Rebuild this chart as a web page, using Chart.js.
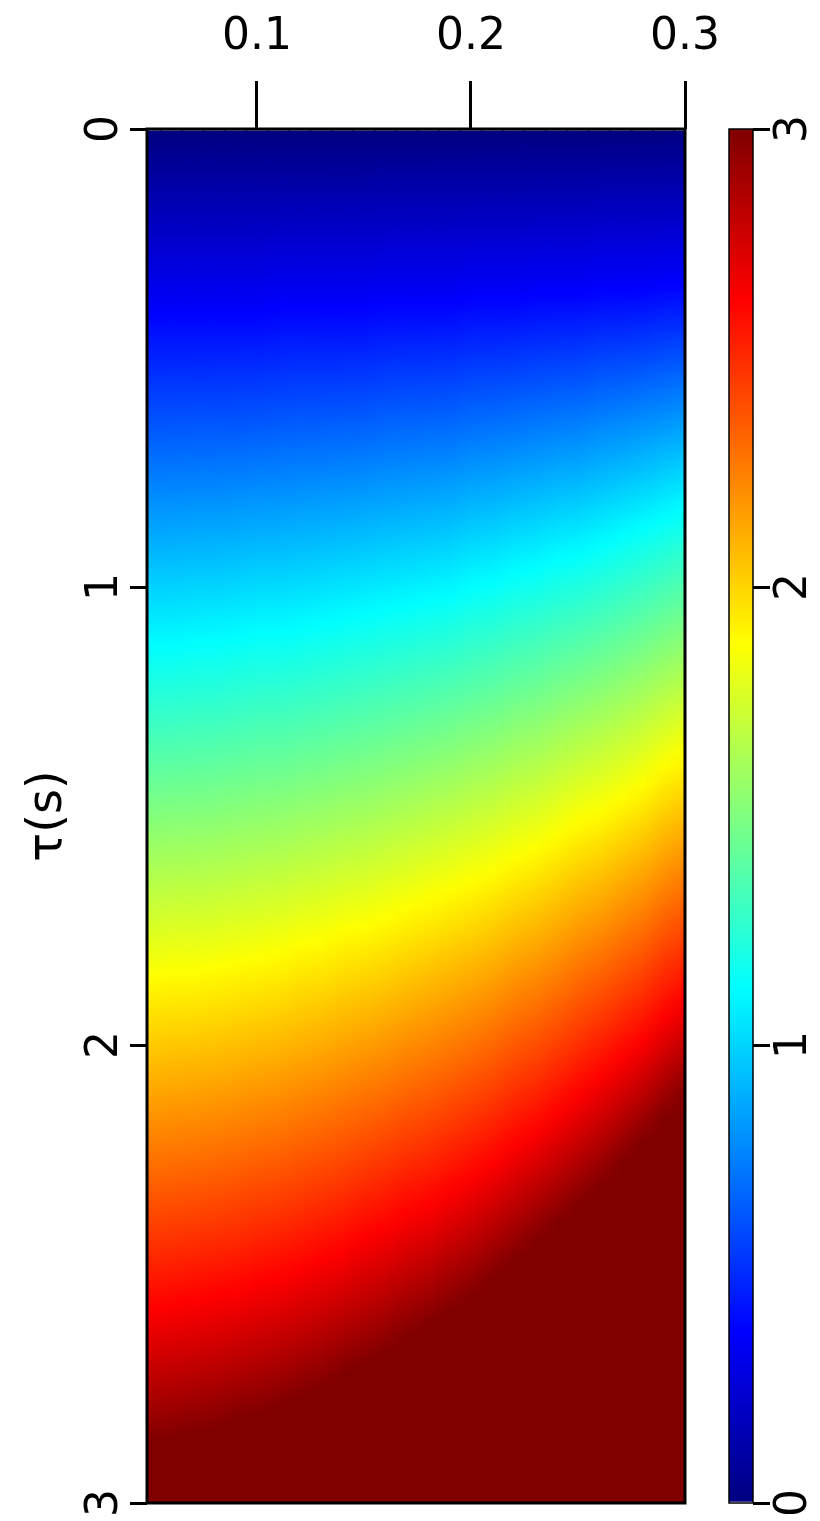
<!DOCTYPE html>
<html><head><meta charset="utf-8">
<script src="https://cdn.jsdelivr.net/npm/chart.js@4.4.1/dist/chart.umd.min.js"></script>
<style>
html,body{margin:0;padding:0;background:#fff;}
#wrap{position:relative;width:820px;height:1521px;overflow:hidden;}
#main{position:absolute;left:0;top:0;width:820px;height:1521px;}
#cbar{position:absolute;left:700px;top:0;width:120px;height:1521px;}
</style></head><body>
<div id="wrap"><canvas id="main" width="820" height="1521"></canvas><canvas id="cbar" width="120" height="1521"></canvas></div>
<script>
// x positions of the sampled columns
const xColumns = [0.05,0.06,0.07,0.08,0.09,0.10,0.11,0.12,0.13,0.14,0.15,0.16,0.17,0.18,0.19,0.20,0.21,0.22,0.23,0.24,0.25,0.26,0.27,0.28,0.29,0.30];
// tau (s) at which each column reaches the value of the jet break points
const tauBlue    = [0.40,0.40,0.40,0.40,0.40,0.40,0.39,0.39,0.39,0.39,0.39,0.38,0.38,0.38,0.38,0.37,0.37,0.37,0.36,0.36,0.36,0.35,0.35,0.35,0.34,0.34]; // value 0.375
const tauCyan    = [1.13,1.13,1.12,1.12,1.11,1.10,1.10,1.09,1.08,1.07,1.06,1.05,1.04,1.03,1.02,1.00,0.99,0.97,0.96,0.94,0.93,0.91,0.89,0.87,0.85,0.83]; // value 1.125
const tauYellow  = [1.85,1.84,1.84,1.83,1.82,1.81,1.80,1.78,1.77,1.75,1.74,1.72,1.70,1.68,1.66,1.64,1.62,1.59,1.57,1.54,1.51,1.49,1.46,1.43,1.39,1.36]; // value 1.875
const tauRed     = [2.58,2.57,2.56,2.55,2.54,2.52,2.51,2.49,2.47,2.45,2.42,2.40,2.37,2.35,2.32,2.29,2.26,2.22,2.19,2.15,2.11,2.07,2.03,1.99,1.94,1.90]; // value 2.625
const tauDarkRed = [2.87,2.86,2.85,2.84,2.82,2.81,2.79,2.77,2.75,2.72,2.70,2.67,2.64,2.61,2.58,2.55,2.51,2.47,2.43,2.39,2.35,2.31,2.26,2.21,2.16,2.11]; // value 3.0

const xTicks = [0.1, 0.2, 0.3];
const tauTicks = [0, 1, 2, 3];
const colorbarTicks = [0, 1, 2, 3];
const jetLevels = [0, 0.375, 1.125, 1.875, 2.625, 3];
const jetColors = ['#000080', '#0000ff', '#00ffff', '#ffff00', '#ff0000', '#800000'];

const FONT = 'DejaVu Sans';

const framePlugin = {
  id: 'frame',
  afterDatasetsDraw(chart, args, opts) {
    const {ctx, chartArea: a} = chart;
    ctx.save();
    ctx.lineWidth = opts.width || 3;
    ctx.strokeStyle = '#000';
    ctx.strokeRect(a.left, a.top, a.right - a.left, a.bottom - a.top);
    ctx.restore();
  }
};

// Fill for the column bars: each column's vertical jet gradient (from its tau
// crossings), blended smoothly between neighbouring column centres.
let fieldCache = null;
function fieldPattern(c) {
  const chart = c.chart;
  const a = chart.chartArea;
  if (!a) return jetColors[0];
  const key = [a.left, a.top, a.right, a.bottom].join(',');
  if (fieldCache && fieldCache.key === key) return fieldCache.pattern;
  const xs = chart.scales.x, ys = chart.scales.y;
  const p0 = ys.getPixelForValue(0), p3 = ys.getPixelForValue(3);
  const n = xColumns.length, H = chart.height, W = chart.width;
  const strip = document.createElement('canvas');
  strip.width = n; strip.height = H;
  const sctx = strip.getContext('2d');
  for (let i = 0; i < n; i++) {
    const g = sctx.createLinearGradient(0, p0, 0, p3);
    const taus = [0, tauBlue[i], tauCyan[i], tauYellow[i], tauRed[i], tauDarkRed[i]];
    taus.forEach((t, k) => g.addColorStop(Math.min(1, t / 3), jetColors[k]));
    g.addColorStop(1, jetColors[5]);
    sctx.fillStyle = g;
    sctx.fillRect(i, 0, 1, H);
  }
  const full = document.createElement('canvas');
  full.width = W; full.height = H;
  const fctx = full.getContext('2d');
  fctx.imageSmoothingEnabled = true;
  const c0 = xs.getPixelForValue(xColumns[0]);
  const c1 = xs.getPixelForValue(xColumns[n - 1]);
  const step = (c1 - c0) / (n - 1);
  fctx.drawImage(strip, 0, 0, n, H, c0 - step / 2, 0, n * step, H);
  const pattern = chart.ctx.createPattern(full, 'no-repeat');
  fieldCache = {key, pattern};
  return pattern;
}

function tickGrid(len) {
  return {offset: false, drawOnChartArea: false, drawTicks: true, tickLength: len, tickWidth: 3, tickColor: '#000', color: '#000', lineWidth: 3};
}
function noPad(s) { s.paddingTop = 0; s.paddingBottom = 0; s.paddingLeft = 0; s.paddingRight = 0; }

new Chart(document.getElementById('main'), {
  type: 'bar',
  data: {
    datasets: [{
      data: xColumns.map(x => ({x: x, y: [0, 3]})),
      backgroundColor: fieldPattern,
      borderWidth: 0,
      borderSkipped: false,
      barPercentage: 1.12,
      categoryPercentage: 1
    }]
  },
  options: {
    responsive: false, animation: false, devicePixelRatio: 1,
    layout: {padding: {left: 0, top: 0, right: 135, bottom: 18}},
    plugins: {legend: {display: false}, tooltip: {enabled: false}, frame: {width: 3}},
    scales: {
      x: {
        type: 'linear', position: 'top', min: 0.0486, max: 0.3, offset: false,
        afterBuildTicks: s => { s.ticks = xTicks.map(v => ({value: v})); },
        afterFit: s => { s.height = 129; noPad(s); },
        grid: tickGrid(48),
        border: {display: false},
        ticks: {font: {family: FONT, size: 44}, color: '#000', padding: 17, minRotation: 0, maxRotation: 0,
                callback: v => Number(v).toFixed(1)}
      },
      y: {
        type: 'linear', position: 'left', reverse: true, min: 0, max: 3,
        afterBuildTicks: s => { s.ticks = tauTicks.map(v => ({value: v})); },
        afterFit: s => { s.width = 147; noPad(s); },
        grid: tickGrid(17),
        border: {display: false},
        ticks: {font: {family: FONT, size: 44}, color: '#000', padding: 10, minRotation: 90, maxRotation: 90,
                crossAlign: 'center', callback: v => String(v)},
        title: {display: true, text: 'τ(s)', font: {family: FONT, size: 48}, color: '#000', padding: {top: 20, bottom: 0}}
      }
    }
  },
  plugins: [framePlugin]
});

function colorbarGradient(c) {
  const chart = c.chart;
  if (!chart.chartArea) return jetColors[0];
  const ys = chart.scales.y;
  const p0 = ys.getPixelForValue(0), p3 = ys.getPixelForValue(3);
  const g = chart.ctx.createLinearGradient(0, p0, 0, p3);
  jetLevels.forEach((v, k) => g.addColorStop(v / 3, jetColors[k]));
  return g;
}

new Chart(document.getElementById('cbar'), {
  type: 'bar',
  data: {
    labels: ['colorbar'],
    datasets: [{data: [[0, 3]], backgroundColor: colorbarGradient, borderWidth: 0, borderSkipped: false,
                barPercentage: 1, categoryPercentage: 1}]
  },
  options: {
    responsive: false, animation: false, devicePixelRatio: 1,
    layout: {padding: {left: 29, top: 129, right: 0, bottom: 18}},
    plugins: {legend: {display: false}, tooltip: {enabled: false}, frame: {width: 1.5}},
    scales: {
      x: {display: false},
      y: {
        type: 'linear', position: 'right', min: 0, max: 3,
        afterBuildTicks: s => { s.ticks = colorbarTicks.map(v => ({value: v})); },
        afterFit: s => { s.width = 67; noPad(s); },
        grid: tickGrid(17),
        border: {display: false},
        ticks: {font: {family: FONT, size: 44}, color: '#000', padding: 11, minRotation: 90, maxRotation: 90,
                crossAlign: 'center', callback: v => String(v)}
      }
    }
  },
  plugins: [framePlugin]
});
</script>
</body></html>
